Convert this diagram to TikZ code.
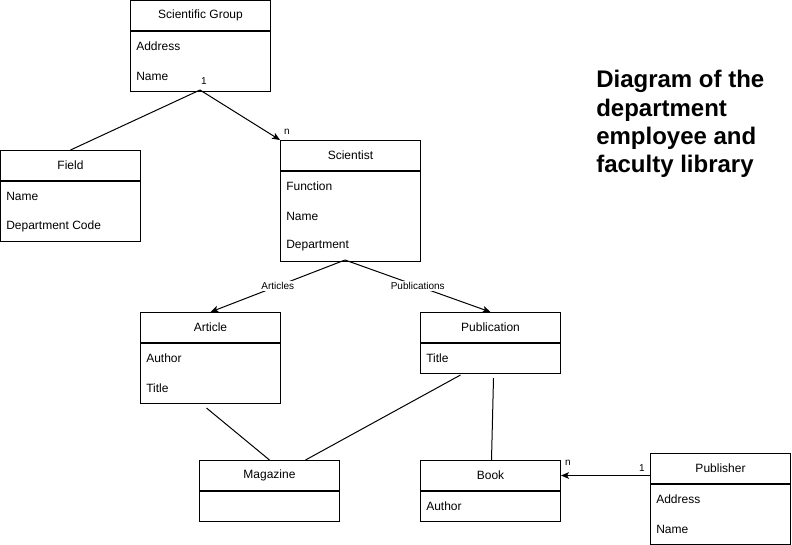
\documentclass[tikz,border=0pt]{standalone}
\usepackage{fontspec}
\setmainfont{Liberation Sans}
\usetikzlibrary{arrows.meta,calc}
\begin{document}
\begin{tikzpicture}[x=0.75pt,y=-0.75pt,
  every node/.style={font=\fontsize{9}{11}\selectfont, inner sep=0pt},
  hdr/.style={draw, line width=0.75pt, anchor=north west, minimum width=105pt, minimum height=22.5pt},
  bodybox/.style={draw, line width=0.75pt, anchor=north west, minimum width=105pt},
  attr/.style={anchor=west},
  conn/.style={line width=0.75pt},
  arr/.style={conn, -{Stealth[length=6pt,width=5pt,inset=1.5pt]}},
  card/.style={font=\fontsize{7.5}{9}\selectfont},
  elabel/.style={fill=white, inner sep=1pt, font=\fontsize{7.5}{9}\selectfont}
]
\useasboundingbox (0,0) rectangle (792,544);

% Scientific Group
\node[hdr] (sg) at (130,0) {Scientific Group};
\node[bodybox, minimum height=45pt] (sgb) at (sg.south west) {};
\node[attr] (sga1) at (136,46) {Address};
\node[attr] (sga2) at (136,76) {Name};

% Field
\node[hdr] (fd) at (0,150) {Field};
\node[bodybox, minimum height=45pt] (fdb) at (fd.south west) {};
\node[attr] (fda1) at (6,196) {Name};
\node[attr] (fda2) at (6,226) {Department Code};

% Scientist
\node[hdr] (sc) at (280,140) {Scientist};
\node[bodybox, minimum height=67.5pt] (scb) at (sc.south west) {};
\node[attr] (sca1) at (286,186) {Function};
\node[attr] (sca2) at (286,216) {Name};
\node[attr] (sca3) at (286,246) {Department};

% Article
\node[hdr] (ar) at (140,312) {Article};
\node[bodybox, minimum height=45pt] (arb) at (ar.south west) {};
\node[attr] (ara1) at (146,358) {Author};
\node[attr] (ara2) at (146,388) {Title};

% Publication
\node[hdr] (pu) at (420,312) {Publication};
\node[bodybox, minimum height=22.5pt] (pub) at (pu.south west) {};
\node[attr] (pua1) at (426,358) {Title};

% Magazine
\node[hdr] (mg) at (199,460) {Magazine};
\node[bodybox, minimum height=22.5pt] (mgb) at (mg.south west) {};

% Book
\node[hdr] (bk) at (420,460) {Book};
\node[bodybox, minimum height=22.5pt] (bkb) at (bk.south west) {};
\node[attr] (bka1) at (426,506) {Author};

% Publisher
\node[hdr] (ps) at (650,453) {Publisher};
\node[bodybox, minimum height=45pt] (psb) at (ps.south west) {};
\node[attr] (psa1) at (656,499) {Address};
\node[attr] (psa2) at (656,529) {Name};

% Title
\node[anchor=north west, align=left, font=\fontsize{18}{21.3}\selectfont\bfseries] (title) at (596,70)
  {Diagram of the\\department\\employee and\\faculty library};

% Connectors
\coordinate (sgbot) at (200,90);
\draw[arr] (sgbot) -- (sc.north west);
\draw[conn] (sgbot) -- (fd.north);
\node[card] (c1) at (204,81) {1};
\node[card] (c2) at (287,132) {n};

\draw[conn] ($(fdb.north east)!0.25!(fdb.south east)$) -- ($(fdb.north east)!0.25!(fdb.south east)$ -| scb.west);

\coordinate (scbot) at (345,260);
\draw[arr] (scbot) -- node[elabel, pos=0.5] (lart) {Articles} ($(ar.north)$);
\draw[arr] (scbot) -- node[elabel, pos=0.5] (lpub) {Publications} ($(pu.north)$);

\draw[conn] ($(arb.south)+(-4,4)$) -- ($(mg.north)$);
\draw[conn] ($(pub.south)+(-30,1)$) -- ($(mg.north)+(36,0)$);
\draw[conn] ($(pub.south)+(3,4)$) -- ($(bk.north)+(1,0)$);

\draw[arr] (ps.west |- bk.east) -- (bk.east);
\node[card] (c3) at (642,468) {1};
\node[card] (c4) at (568,463) {n};
\end{tikzpicture}
\end{document}
